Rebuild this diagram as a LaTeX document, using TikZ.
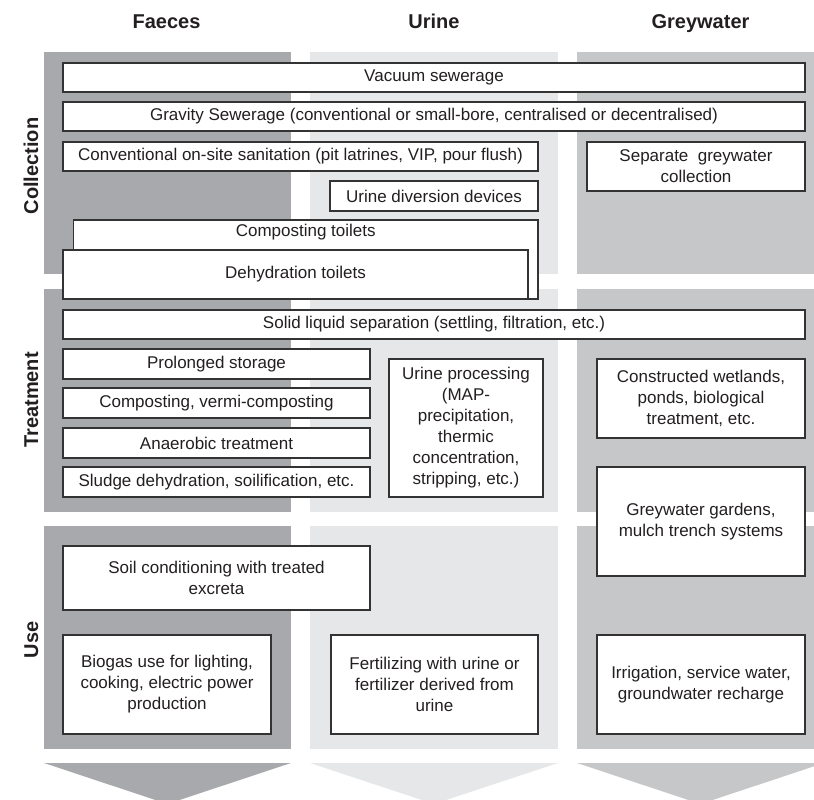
\documentclass[tikz,border=0pt]{standalone}
\usepackage{fontspec}
\setmainfont{Liberation Sans}
\definecolor{faecescol}{HTML}{A7A9AC}
\definecolor{urinecol}{HTML}{E6E7E8}
\definecolor{greycol}{HTML}{C6C7C9}
\definecolor{boxline}{HTML}{333333}
\definecolor{txt}{HTML}{231F20}
\newcommand\mkbox[6]{\node[box,minimum width={(#4-#2)*1pt},minimum height={(#5-#3)*1pt}] (#1) at ({(#2+#4)/2},{(#3+#5)/2}) {#6};}
\begin{document}
\begin{tikzpicture}[x=1pt,y=-1pt,
  box/.style={draw=boxline, line width=1.1pt, fill=white, inner sep=0pt, outer sep=0pt,
    align=center, text=txt, font=\fontsize{17}{21}\selectfont},
  plain/.style={inner sep=0pt, outer sep=0pt, align=center, text=txt, font=\fontsize{17}{21}\selectfont},
  head/.style={font=\bfseries\fontsize{20}{24}\selectfont, text=txt, anchor=base, inner sep=0pt},
  rowlab/.style={font=\bfseries\fontsize{20}{24}\selectfont, text=txt, anchor=base, rotate=90, inner sep=0pt}]
\useasboundingbox (0,0) rectangle (814,800);
\begin{scope}
\clip (0,0) rectangle (814,800);
% column bands
\foreach \ya/\yb in {52/274, 289/512, 526/749} {
  \fill[faecescol] (44,\ya) rectangle (291,\yb);
  \fill[urinecol] (310,\ya) rectangle (558,\yb);
  \fill[greycol] (577,\ya) rectangle (824,\yb);
}
% bottom arrows
\fill[faecescol] (44,763) -- (291,763) -- (167.5,804) -- cycle;
\fill[urinecol] (310,763) -- (558,763) -- (434,804) -- cycle;
\fill[greycol] (577,763) -- (824,763) -- (700.5,804) -- cycle;
\end{scope}
% headers
\node[head] (hf) at (166.5,29) {Faeces};
\node[head] (hu) at (434,29) {Urine};
\node[head] (hg) at (700.5,29) {Greywater};
% row labels
\node[rowlab] (lc) at (38,166) {Collection};
\node[rowlab] (lt) at (38,400) {Treatment};
\node[rowlab] (lu) at (38,640) {Use};
% collection
\mkbox{vac}{63}{63}{805}{92}{Vacuum sewerage}
\mkbox{grav}{63}{102}{805}{131}{Gravity Sewerage (conventional or small-bore, centralised or decentralised)}
\mkbox{conv}{63}{142}{538}{171}{Conventional on-site sanitation (pit latrines, VIP, pour flush)}
\mkbox{sepg}{587}{142}{805}{191}{Separate~ greywater\\collection}
\mkbox{udd}{330}{181}{538}{211}{Urine diversion devices}
\mkbox{comp}{73.5}{220}{538}{299}{}
\node[plain] (compt) at (305.75,232) {Composting toilets};
\mkbox{dehy}{63}{250}{528}{299}{Dehydration toilets}
% treatment
\mkbox{sls}{63}{310}{805}{339}{Solid liquid separation (settling, filtration, etc.)}
\mkbox{pst}{63}{349}{370}{379}{Prolonged storage}
\mkbox{cvc}{63}{388}{370}{418}{Composting, vermi-composting}
\mkbox{ana}{63}{428}{370}{458}{Anaerobic treatment}
\mkbox{slu}{63}{467}{370}{497}{Sludge dehydration, soilification, etc.}
\mkbox{upr}{389}{359}{543}{497}{Urine processing\\(MAP-\\precipitation,\\thermic\\concentration,\\stripping, etc.)}
\mkbox{cwl}{597}{359}{805}{438}{Constructed wetlands,\\ponds, biological\\treatment, etc.}
\mkbox{ggd}{597}{467}{805}{576}{Greywater gardens,\\mulch trench systems}
% use
\mkbox{soil}{63}{546}{370}{610}{Soil conditioning with treated\\excreta}
\mkbox{bio}{63}{635}{271}{734}{Biogas use for lighting,\\cooking, electric power\\production}
\mkbox{fert}{331}{635}{538}{734}{Fertilizing with urine or\\fertilizer derived from\\urine}
\mkbox{irr}{597}{635}{805}{734}{Irrigation, service water,\\groundwater recharge}
\end{tikzpicture}
\end{document}
